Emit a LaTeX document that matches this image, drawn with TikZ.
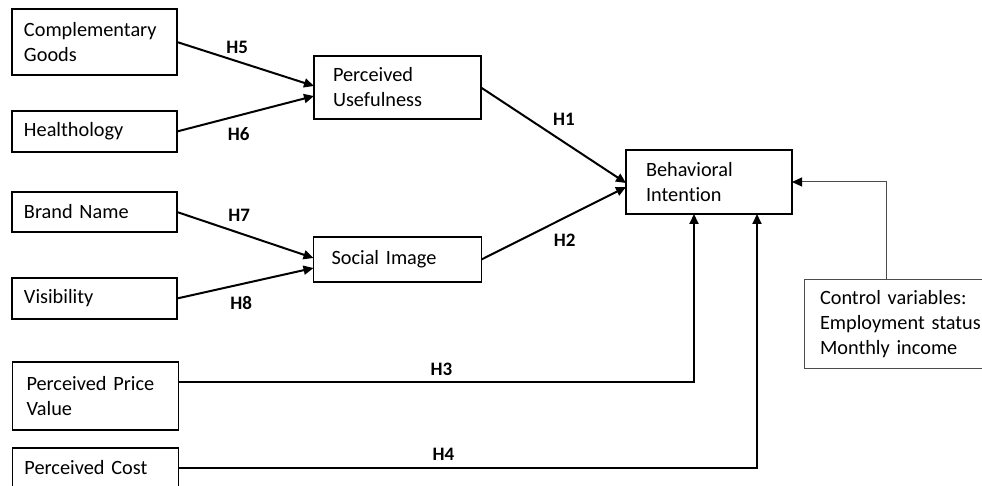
\documentclass[tikz,border=0pt]{standalone}
\usepackage{fontspec}
\setmainfont{Carlito}[Ligatures=NoCommon]
\usetikzlibrary{positioning,arrows.meta}
\tikzset{
	every picture/.style={/utils/exec={\fontsize{10.15}{12.5}\selectfont}},
	box/.style={draw, line width=0.75pt, align=left, outer sep=0pt, inner ysep=0pt, inner xsep=6pt, text width=70.5pt},
	midbox/.style={box, inner xsep=9.5pt, text width=64.5pt},
	hyp/.style={font=\fontsize{9.5}{11}\selectfont\bfseries},
	link/.style={line width=1pt, -{Triangle[length=5pt,width=4.5pt]}},
	ctrllink/.style={line width=0.5pt, draw=black!70, -{Triangle[length=5pt,width=4.5pt,color=black,fill=black]}},
}

\begin{document}
\begin{tikzpicture}[]
	\useasboundingbox (0,0) rectangle (491pt,-243pt);
	\node[box, minimum height=33pt, anchor=north west] (compgoods) at (6pt,-4.5pt) {Complementary\\Goods};
	\node[box, minimum height=20.5pt, below=18pt of compgoods] (healthology) {Healthology};
	\node[box, minimum height=20pt, below=20pt of healthology] (brandname) {Brand Name};
	\node[box, minimum height=20.5pt, below=23pt of brandname] (visibility) {Visibility};
	\node[box, minimum height=34pt, inner xsep=7pt, text width=69pt, below=21.5pt of visibility, xshift=0.5pt] (pricevalue) {Perceived Price\\Value};
	\node[box, minimum height=20pt, text width=71pt, below=9pt of pricevalue] (cost) {Perceived Cost};
	\node[midbox, minimum height=31.5pt, below right=-9.5pt and 68.5pt of compgoods] (usefulness) {Perceived\\Usefulness};
	\node[midbox, minimum height=22.5pt, inner xsep=9pt, text width=66pt, below=59pt of usefulness] (socialimage) {Social Image};
	\node[midbox, minimum height=32pt, inner xsep=10pt, text width=63pt, below right=15.5pt and 72.5pt of usefulness] (intention) {Behavioral\\Intention};
	\node[box, draw=black!70, line width=0.5pt, minimum height=44.5pt, inner xsep=8pt, text width=82pt, below right=33pt and 6pt of intention] (control) {Control variables:\\Employment status\\Monthly income};
	
	\draw[link] (compgoods.east) -- ([yshift=0.75pt]usefulness.west) node[hyp, pos=0.44, above] {H5};
	\draw[link] (healthology.east) -- ([yshift=-4.25pt]usefulness.west) node[hyp, pos=0.45, below=2pt] {H6};
	\draw[link] (brandname.east) -- ([yshift=0.75pt]socialimage.west) node[hyp, pos=0.455, above=2pt] {H7};
	\draw[link] (visibility.east) -- ([yshift=-4.25pt]socialimage.west) node[hyp, pos=0.47, below=2pt] {H8};
	\draw[link] (usefulness.east) -- ([yshift=-0.5pt]intention.west) node[hyp, pos=0.572, above=4.4pt] {H1};
	\draw[link] (socialimage.east) -- ([yshift=-2.5pt]intention.west) node[hyp, pos=0.576, below=4.4pt] {H2};
	\draw[link] ([yshift=7pt]pricevalue.east) -| ([xshift=-7.5pt]intention.south) node[hyp, pos=0.255, above=-0.8pt] {H3};
	\draw[link] (cost.east) -| ([xshift=24pt]intention.south) node[hyp, pos=0.229, above] {H4};
	\draw[ctrllink] ([xshift=-8pt]control.north) |- (intention.east);
\end{tikzpicture}
\end{document}
